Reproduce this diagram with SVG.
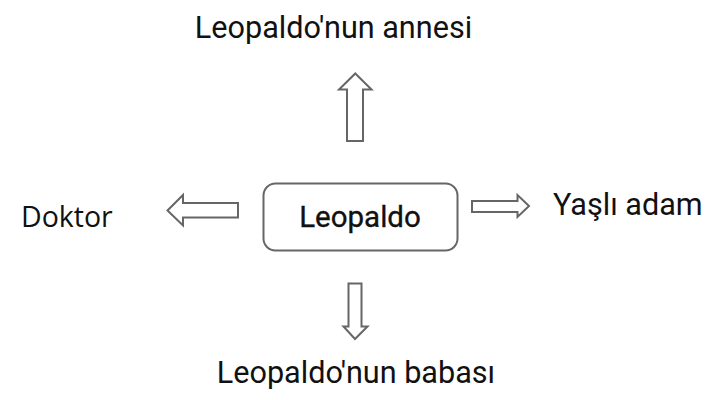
<svg xmlns="http://www.w3.org/2000/svg" width="720" height="400" viewBox="0 0 720 400">
<style>
.arrow{fill:#fff;stroke:#666;stroke-width:2;stroke-linejoin:miter}
.lbl{font-family:Roboto,"Liberation Sans",sans-serif;font-size:30.6px;fill:#111}
.box{fill:#fff;stroke:#666;stroke-width:2}
</style>
<rect width="720" height="400" fill="#fff"/>
<g id="leopaldo">
<rect class="box" x="263.5" y="183.5" width="194" height="67" rx="12"/>
<text class="lbl" x="360" y="227" text-anchor="middle" style="font-size:29.5px;stroke:#111;stroke-width:0.35">Leopaldo</text>
</g>
<g id="anne"><text class="lbl" x="333.5" y="38" text-anchor="middle">Leopaldo'nun annesi</text></g>
<g id="doktor"><text class="lbl" x="21" y="227" style="font-family:'Open Sans','Noto Sans',sans-serif;font-size:28.5px">Doktor</text></g>
<g id="yasli"><text class="lbl" x="553" y="215">Yaşlı adam</text></g>
<g id="baba"><text class="lbl" x="356" y="383" text-anchor="middle">Leopaldo'nun babası</text></g>
<g id="connectors">
<polygon class="arrow" points="355.3,73.5 371.5,89.5 363,89.5 363,141 347,141 347,89.5 339,89.5"/>
<polygon class="arrow" points="167.5,210.5 183,195 183,203 238,203 238,217.5 183,217.5 183,225.5"/>
<polygon class="arrow" points="529,206 517.5,195 517.5,201 472,201 472,212 517.5,212 517.5,217"/>
<polygon class="arrow" points="348.5,283.5 361.5,283.5 361.5,326.5 367.5,326.5 355,339 343.5,326.5 348.5,326.5"/>
</g>
</svg>
